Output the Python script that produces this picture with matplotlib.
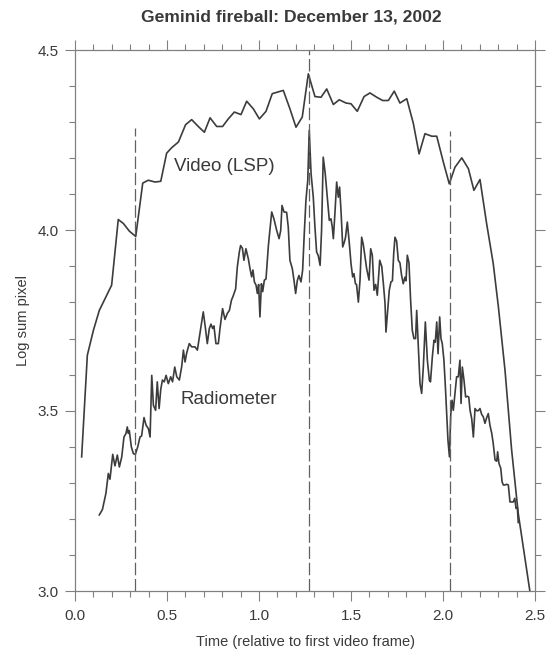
import matplotlib
matplotlib.use("Agg")
from matplotlib import pyplot as plt
from matplotlib.ticker import MultipleLocator

plt.rcParams['font.family'] = ['Liberation Sans', 'DejaVu Sans']

# Video (LSP) curve
video_t = [0.036, 0.067, 0.100, 0.132, 0.199, 0.235, 0.263, 0.295, 0.330, 0.368,
           0.398, 0.435, 0.466, 0.498, 0.525, 0.562, 0.601, 0.634, 0.670, 0.703,
           0.734, 0.770, 0.802, 0.833, 0.866, 0.902, 0.933, 0.969, 1.002, 1.038,
           1.072, 1.132, 1.168, 1.201, 1.235, 1.268, 1.304, 1.337, 1.368, 1.404,
           1.436, 1.473, 1.500, 1.534, 1.571, 1.603, 1.640, 1.672, 1.703, 1.735,
           1.766, 1.803, 1.839, 1.870, 1.902, 1.939, 1.966, 2.002, 2.034, 2.065,
           2.102, 2.138, 2.168, 2.201, 2.237, 2.273, 2.301, 2.337, 2.373, 2.409,
           2.472]
video_v = [3.372, 3.654, 3.723, 3.778, 3.848, 4.030, 4.019, 3.998, 3.983, 4.131,
           4.139, 4.134, 4.136, 4.214, 4.229, 4.245, 4.293, 4.307, 4.288, 4.272,
           4.312, 4.288, 4.288, 4.309, 4.328, 4.321, 4.358, 4.337, 4.309, 4.330,
           4.379, 4.388, 4.337, 4.286, 4.314, 4.434, 4.371, 4.369, 4.392, 4.349,
           4.362, 4.353, 4.351, 4.330, 4.371, 4.381, 4.369, 4.360, 4.360, 4.386,
           4.353, 4.365, 4.296, 4.212, 4.268, 4.261, 4.261, 4.189, 4.129, 4.175,
           4.201, 4.171, 4.111, 4.141, 4.019, 3.908, 3.788, 3.612, 3.391, 3.215,
           3.000]

# Radiometer curve
radio_t = [0.132, 0.149, 0.168, 0.181, 0.190, 0.205, 0.217, 0.230, 0.241, 0.254,
           0.266, 0.277, 0.284, 0.290, 0.295, 0.306, 0.317, 0.328, 0.341, 0.353,
           0.362, 0.375, 0.386, 0.399, 0.408, 0.417, 0.426, 0.438, 0.447, 0.457,
           0.466, 0.475, 0.485, 0.495, 0.507, 0.520, 0.530, 0.542, 0.553, 0.567,
           0.580, 0.589, 0.598, 0.607, 0.621, 0.634, 0.652, 0.665, 0.676, 0.685,
           0.697, 0.708, 0.719, 0.730, 0.739, 0.748, 0.755, 0.766, 0.779, 0.788,
           0.802, 0.815, 0.828, 0.839, 0.850, 0.861, 0.873, 0.882, 0.893, 0.900,
           0.910, 0.918, 0.929, 0.942, 0.951, 0.960, 0.967, 0.975, 0.984, 0.991,
           0.998, 1.005, 1.013, 1.020, 1.029, 1.038, 1.051, 1.060, 1.069, 1.082,
           1.096, 1.109, 1.118, 1.125, 1.136, 1.150, 1.159, 1.168, 1.181, 1.190,
           1.199, 1.208, 1.217, 1.228, 1.237, 1.246, 1.255, 1.265, 1.273, 1.283,
           1.295, 1.304, 1.313, 1.322, 1.332, 1.340, 1.349, 1.360, 1.371, 1.382,
           1.391, 1.398, 1.404, 1.413, 1.422, 1.431, 1.438, 1.446, 1.455, 1.464,
           1.470, 1.480, 1.491, 1.500, 1.509, 1.516, 1.524, 1.530, 1.540, 1.549,
           1.558, 1.567, 1.576, 1.585, 1.598, 1.607, 1.616, 1.625, 1.634, 1.643,
           1.656, 1.667, 1.676, 1.685, 1.690, 1.699, 1.708, 1.717, 1.725, 1.732,
           1.739, 1.748, 1.757, 1.766, 1.775, 1.784, 1.793, 1.799, 1.806, 1.815,
           1.824, 1.833, 1.842, 1.851, 1.857, 1.866, 1.875, 1.884, 1.893, 1.904,
           1.915, 1.926, 1.932, 1.942, 1.951, 1.958, 1.966, 1.973, 1.982, 1.989,
           1.996, 2.005, 2.013, 2.020, 2.027, 2.035, 2.042, 2.049, 2.056, 2.065,
           2.074, 2.083, 2.092, 2.098, 2.105, 2.114, 2.123, 2.132, 2.140, 2.147,
           2.156, 2.165, 2.174, 2.183, 2.192, 2.201, 2.210, 2.219, 2.228, 2.237,
           2.246, 2.255, 2.265, 2.273, 2.283, 2.292, 2.297, 2.304, 2.314, 2.321,
           2.328, 2.337, 2.346, 2.355, 2.364, 2.373, 2.382, 2.390, 2.397, 2.404,
           2.409]
radio_v = [3.211, 3.226, 3.271, 3.326, 3.310, 3.379, 3.347, 3.377, 3.344, 3.372,
           3.427, 3.437, 3.455, 3.437, 3.445, 3.400, 3.381, 3.379, 3.400, 3.427,
           3.430, 3.481, 3.460, 3.450, 3.427, 3.598, 3.515, 3.501, 3.580, 3.506,
           3.559, 3.585, 3.580, 3.598, 3.575, 3.594, 3.580, 3.621, 3.594, 3.585,
           3.623, 3.668, 3.635, 3.660, 3.686, 3.677, 3.677, 3.668, 3.704, 3.732,
           3.774, 3.732, 3.686, 3.728, 3.740, 3.728, 3.735, 3.686, 3.686, 3.728,
           3.783, 3.753, 3.770, 3.778, 3.806, 3.820, 3.838, 3.898, 3.940, 3.958,
           3.950, 3.917, 3.949, 3.921, 3.894, 3.871, 3.890, 3.857, 3.848, 3.825,
           3.850, 3.760, 3.852, 3.830, 3.862, 3.865, 3.958, 4.005, 4.051, 4.030,
           4.000, 3.977, 4.000, 4.069, 4.051, 4.050, 4.009, 3.917, 3.894, 3.862,
           3.825, 3.860, 3.875, 3.857, 3.889, 3.991, 4.083, 4.139, 4.277, 4.157,
           4.092, 4.009, 3.940, 3.930, 3.903, 4.000, 4.203, 4.157, 4.092, 4.028,
           4.032, 4.010, 3.977, 4.051, 4.134, 4.092, 4.120, 4.051, 3.954, 3.968,
           3.980, 4.023, 3.963, 3.908, 3.871, 3.880, 3.852, 3.850, 3.801, 3.862,
           3.981, 3.960, 3.926, 3.894, 3.862, 3.949, 3.930, 3.834, 3.850, 3.820,
           3.917, 3.900, 3.852, 3.797, 3.718, 3.778, 3.834, 3.857, 3.860, 3.935,
           3.981, 3.970, 3.917, 3.910, 3.875, 3.852, 3.870, 3.860, 3.931, 3.910,
           3.806, 3.723, 3.700, 3.700, 3.778, 3.677, 3.575, 3.548, 3.621, 3.746,
           3.640, 3.584, 3.580, 3.649, 3.695, 3.690, 3.746, 3.658, 3.760, 3.700,
           3.686, 3.640, 3.566, 3.492, 3.418, 3.372, 3.488, 3.529, 3.501, 3.548,
           3.594, 3.594, 3.640, 3.520, 3.621, 3.585, 3.538, 3.540, 3.538, 3.501,
           3.478, 3.427, 3.506, 3.500, 3.500, 3.506, 3.490, 3.483, 3.465, 3.480,
           3.492, 3.460, 3.437, 3.409, 3.363, 3.360, 3.386, 3.354, 3.340, 3.303,
           3.294, 3.294, 3.296, 3.294, 3.247, 3.247, 3.247, 3.257, 3.229, 3.232,
           3.190]

# frame markers (dashed verticals)
marker_t = [0.326, 1.273, 2.036]
marker_top = [4.285, 4.5, 4.275]

line_col = '#3c3c3c'
axis_col = '#808080'
text_col = '#3a3a3a'

fig = plt.figure(figsize=(5.52, 6.53), dpi=100)
ax = fig.add_axes([0.1359, 0.0949, 0.8333, 0.8285])

ax.plot(video_t, video_v, color=line_col, lw=1.2)
ax.plot(radio_t, radio_v, color=line_col, lw=1.2)
for t, top in zip(marker_t, marker_top):
    ax.plot([t, t], [3.0, top], color='#606060', lw=0.9, ls=(0, (10, 3)))

ax.text(0.538, 4.177, 'Video (LSP)', fontsize=13.5, color=text_col, va='center')
ax.text(0.571, 3.532, 'Radiometer', fontsize=13.5, color=text_col, va='center')

ax.set_xlim(0, 2.5)
ax.set_ylim(3.0, 4.5)
ax.xaxis.set_major_locator(MultipleLocator(0.5))
ax.xaxis.set_minor_locator(MultipleLocator(0.1))
ax.yaxis.set_major_locator(MultipleLocator(0.5))
ax.yaxis.set_minor_locator(MultipleLocator(0.1))
ax.xaxis.set_major_formatter(plt.FormatStrFormatter('%.1f'))
ax.yaxis.set_major_formatter(plt.FormatStrFormatter('%.1f'))
ax.tick_params(which='both', direction='out', top=True, right=True,
               color=axis_col, labelcolor=text_col, labelsize=11)
ax.tick_params(which='major', length=7, width=0.8)
ax.tick_params(which='minor', length=4, width=0.8)
ax.tick_params(axis='x', which='major', pad=6)
ax.tick_params(axis='y', which='major', pad=5)
for s in ax.spines.values():
    s.set_color(axis_col)
    s.set_linewidth(0.9)

ax.set_xlabel('Time (relative to first video frame)', fontsize=10.5, color=text_col, va='center')
ax.set_ylabel('Log sum pixel', fontsize=10.5, color=text_col, va='center')
ax.xaxis.set_label_coords(0.5, -0.094)
ax.yaxis.set_label_coords(-0.113, 0.5)
fig.text(0.527, 0.974, 'Geminid fireball: December 13, 2002', ha='center', va='center',
         fontsize=12.6, fontweight='bold', color=text_col)

fig.savefig('out.png', dpi=100)
